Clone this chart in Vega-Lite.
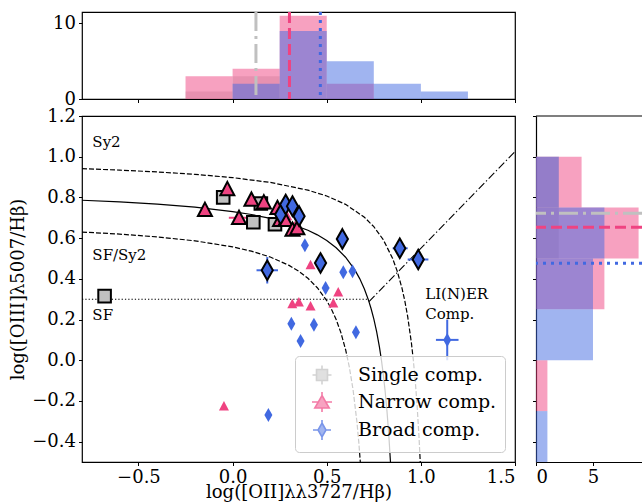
{
  "$schema": "https://vega.github.io/schema/vega-lite/v6.json",
  "padding": {"left": 9, "top": 9, "right": 0, "bottom": 0},
  "autosize": {"type": "pad"},
  "background": "white",
  "config": {
    "font": "DejaVu Serif",
    "view": {"stroke": "#000", "strokeWidth": 1.2},
    "axis": {"grid": false, "domain": false, "domainColor": "#000", "domainWidth": 1.2, "tickColor": "#000", "tickSize": 3.5, "tickWidth": 1, "labelColor": "#000", "labelFont": "DejaVu Serif", "labelFontSize": 18, "titleFont": "DejaVu Serif", "titleFontSize": 18, "titleFontWeight": "normal", "titleColor": "#000", "labelPadding": 3, "titlePadding": 4},
    "legend": {"labelFont": "DejaVu Serif", "labelFontSize": 19, "labelColor": "#000", "labelLimit": 400, "symbolSize": 400, "symbolStrokeWidth": 1.6, "padding": 8, "rowPadding": 0, "labelOffset": 25, "symbolOffset": 8, "fillColor": "rgba(255,255,255,0.8)", "strokeColor": "#cccccc", "cornerRadius": 4, "offset": 10}
  },
  "datasets": {
    "pts": [
      {"comp": "Single comp.", "flag": "hi", "x": -0.68, "y": 0.315},
      {"comp": "Single comp.", "flag": "hi", "x": -0.05, "y": 0.80},
      {"comp": "Single comp.", "flag": "hi", "x": 0.11, "y": 0.678},
      {"comp": "Single comp.", "flag": "hi", "x": 0.15, "y": 0.77},
      {"comp": "Single comp.", "flag": "hi", "x": 0.225, "y": 0.668},
      {"comp": "Narrow comp.", "flag": "lo", "x": -0.046, "y": -0.225},
      {"comp": "Narrow comp.", "flag": "lo", "x": 0.414, "y": 0.469},
      {"comp": "Narrow comp.", "flag": "lo", "x": 0.317, "y": 0.277},
      {"comp": "Narrow comp.", "flag": "lo", "x": 0.352, "y": 0.286},
      {"comp": "Narrow comp.", "flag": "lo", "x": 0.414, "y": 0.267},
      {"comp": "Narrow comp.", "flag": "lo", "x": 0.535, "y": 0.281},
      {"comp": "Narrow comp.", "flag": "lo", "x": 0.561, "y": 0.335},
      {"comp": "Narrow comp.", "flag": "lo", "x": 0.29, "y": 0.71},
      {"comp": "Narrow comp.", "flag": "lo", "x": 0.30, "y": 0.755},
      {"comp": "Narrow comp.", "flag": "lo", "x": 0.33, "y": 0.66},
      {"comp": "Narrow comp.", "flag": "hi", "x": -0.147, "y": 0.74},
      {"comp": "Narrow comp.", "flag": "hi", "x": -0.028, "y": 0.842},
      {"comp": "Narrow comp.", "flag": "hi", "x": 0.034, "y": 0.70},
      {"comp": "Narrow comp.", "flag": "hi", "x": 0.10, "y": 0.79},
      {"comp": "Narrow comp.", "flag": "hi", "x": 0.166, "y": 0.777},
      {"comp": "Narrow comp.", "flag": "hi", "x": 0.238, "y": 0.749},
      {"comp": "Narrow comp.", "flag": "hi", "x": 0.252, "y": 0.69},
      {"comp": "Narrow comp.", "flag": "hi", "x": 0.28, "y": 0.69},
      {"comp": "Narrow comp.", "flag": "hi", "x": 0.318, "y": 0.642},
      {"comp": "Narrow comp.", "flag": "hi", "x": 0.344, "y": 0.65},
      {"comp": "Broad comp.", "flag": "lo", "x": 0.384, "y": 0.565},
      {"comp": "Broad comp.", "flag": "lo", "x": 0.588, "y": 0.432},
      {"comp": "Broad comp.", "flag": "lo", "x": 0.637, "y": 0.437},
      {"comp": "Broad comp.", "flag": "lo", "x": 0.494, "y": 0.355},
      {"comp": "Broad comp.", "flag": "lo", "x": 0.312, "y": 0.179},
      {"comp": "Broad comp.", "flag": "lo", "x": 0.432, "y": 0.174},
      {"comp": "Broad comp.", "flag": "lo", "x": 0.361, "y": 0.095},
      {"comp": "Broad comp.", "flag": "lo", "x": 0.655, "y": 0.138},
      {"comp": "Broad comp.", "flag": "lo", "x": 0.19, "y": -0.269},
      {"comp": "Broad comp.", "flag": "lo", "x": 1.14, "y": 0.10},
      {"comp": "Broad comp.", "flag": "hi", "x": 0.184, "y": 0.442},
      {"comp": "Broad comp.", "flag": "hi", "x": 0.467, "y": 0.478},
      {"comp": "Broad comp.", "flag": "hi", "x": 0.583, "y": 0.596},
      {"comp": "Broad comp.", "flag": "hi", "x": 0.888, "y": 0.55},
      {"comp": "Broad comp.", "flag": "hi", "x": 0.986, "y": 0.495},
      {"comp": "Broad comp.", "flag": "hi", "x": 0.255, "y": 0.716},
      {"comp": "Broad comp.", "flag": "hi", "x": 0.282, "y": 0.765},
      {"comp": "Broad comp.", "flag": "hi", "x": 0.318, "y": 0.757},
      {"comp": "Broad comp.", "flag": "hi", "x": 0.353, "y": 0.708}
    ],
    "errs": [
      {"comp": "Broad comp.", "x": 0.184, "y": 0.442, "xlo": 0.127, "xhi": 0.241, "ylo": 0.377, "yhi": 0.507},
      {"comp": "Broad comp.", "x": 1.14, "y": 0.10, "xlo": 1.08, "xhi": 1.20, "ylo": 0.0, "yhi": 0.20},
      {"comp": "Narrow comp.", "x": 0.034, "y": 0.70, "xlo": -0.02, "xhi": 0.09, "ylo": 0.69, "yhi": 0.71},
      {"comp": "Broad comp.", "x": 0.986, "y": 0.495, "xlo": 0.93, "xhi": 1.04, "ylo": 0.485, "yhi": 0.505},
      {"comp": "Broad comp.", "x": 0.888, "y": 0.55, "xlo": 0.85, "xhi": 0.93, "ylo": 0.545, "yhi": 0.555}
    ],
    "curves": [
      {"c": "div", "x": -0.8, "y": 0.786}, {"c": "div", "x": -0.6, "y": 0.7776}, {"c": "div", "x": -0.4, "y": 0.7667}, {"c": "div", "x": -0.2, "y": 0.7518}, {"c": "div", "x": 0.0, "y": 0.7304}, {"c": "div", "x": 0.1, "y": 0.7159}, {"c": "div", "x": 0.2, "y": 0.6972}, {"c": "div", "x": 0.3, "y": 0.6726}, {"c": "div", "x": 0.4, "y": 0.6385}, {"c": "div", "x": 0.45, "y": 0.616}, {"c": "div", "x": 0.5, "y": 0.5881}, {"c": "div", "x": 0.55, "y": 0.5527}, {"c": "div", "x": 0.6, "y": 0.5062}, {"c": "div", "x": 0.65, "y": 0.4426}, {"c": "div", "x": 0.675, "y": 0.401}, {"c": "div", "x": 0.7, "y": 0.35}, {"c": "div", "x": 0.72, "y": 0.30}, {"c": "div", "x": 0.735, "y": 0.2554}, {"c": "div", "x": 0.75, "y": 0.2029}, {"c": "div", "x": 0.765, "y": 0.1403}, {"c": "div", "x": 0.78, "y": 0.0643}, {"c": "div", "x": 0.79, "y": 0.0038}, {"c": "div", "x": 0.8, "y": -0.0667}, {"c": "div", "x": 0.81, "y": -0.15}, {"c": "div", "x": 0.82, "y": -0.25}, {"c": "div", "x": 0.83, "y": -0.3722}, {"c": "div", "x": 0.8385, "y": -0.4997},
      {"c": "up", "x": -0.8, "y": 0.9412}, {"c": "up", "x": -0.6, "y": 0.9341}, {"c": "up", "x": -0.4, "y": 0.9252}, {"c": "up", "x": -0.2, "y": 0.9134}, {"c": "up", "x": 0.0, "y": 0.8972}, {"c": "up", "x": 0.2, "y": 0.8736}, {"c": "up", "x": 0.4, "y": 0.8358}, {"c": "up", "x": 0.5, "y": 0.807}, {"c": "up", "x": 0.6, "y": 0.766}, {"c": "up", "x": 0.7, "y": 0.7027}, {"c": "up", "x": 0.75, "y": 0.6562}, {"c": "up", "x": 0.8, "y": 0.5926}, {"c": "up", "x": 0.85, "y": 0.5}, {"c": "up", "x": 0.875, "y": 0.4359}, {"c": "up", "x": 0.9, "y": 0.3529}, {"c": "up", "x": 0.915, "y": 0.2903}, {"c": "up", "x": 0.93, "y": 0.2143}, {"c": "up", "x": 0.95, "y": 0.0833}, {"c": "up", "x": 0.96, "y": 0.0}, {"c": "up", "x": 0.97, "y": -0.1}, {"c": "up", "x": 0.98, "y": -0.2222}, {"c": "up", "x": 0.99, "y": -0.375}, {"c": "up", "x": 0.9967, "y": -0.5},
      {"c": "low", "x": -0.8, "y": 0.6299}, {"c": "low", "x": -0.6, "y": 0.6197}, {"c": "low", "x": -0.4, "y": 0.606}, {"c": "low", "x": -0.2, "y": 0.5866}, {"c": "low", "x": 0.0, "y": 0.5571}, {"c": "low", "x": 0.1, "y": 0.5358}, {"c": "low", "x": 0.2, "y": 0.507}, {"c": "low", "x": 0.3, "y": 0.466}, {"c": "low", "x": 0.35, "y": 0.4381}, {"c": "low", "x": 0.4, "y": 0.4027}, {"c": "low", "x": 0.45, "y": 0.3562}, {"c": "low", "x": 0.5, "y": 0.2926}, {"c": "low", "x": 0.525, "y": 0.251}, {"c": "low", "x": 0.55, "y": 0.2}, {"c": "low", "x": 0.575, "y": 0.136}, {"c": "low", "x": 0.6, "y": 0.0529}, {"c": "low", "x": 0.62, "y": -0.0333}, {"c": "low", "x": 0.64, "y": -0.1462}, {"c": "low", "x": 0.66, "y": -0.3}, {"c": "low", "x": 0.67, "y": -0.4}, {"c": "low", "x": 0.6783, "y": -0.5},
      {"c": "sf", "x": -0.8, "y": 0.3}, {"c": "sf", "x": 0.72, "y": 0.3},
      {"c": "liner", "x": 0.7245, "y": 0.288}, {"c": "liner", "x": 1.5, "y": 1.025}
    ],
    "notes": [
      {"x": -0.745, "y": 1.07, "t": "Sy2"},
      {"x": -0.745, "y": 0.519, "t": "SF/Sy2"},
      {"x": -0.745, "y": 0.222, "t": "SF"},
      {"x": 1.023, "y": 0.325, "t": "LI(N)ER"},
      {"x": 1.023, "y": 0.228, "t": "Comp."}
    ],
    "hx": [
      {"comp": "Single comp.", "lo": -0.25, "hi": 0.0, "n": 1},
      {"comp": "Single comp.", "lo": 0.0, "hi": 0.25, "n": 3},
      {"comp": "Narrow comp.", "lo": -0.25, "hi": 0.0, "n": 3},
      {"comp": "Narrow comp.", "lo": 0.0, "hi": 0.25, "n": 4},
      {"comp": "Narrow comp.", "lo": 0.25, "hi": 0.5, "n": 11},
      {"comp": "Narrow comp.", "lo": 0.5, "hi": 0.75, "n": 2},
      {"comp": "Broad comp.", "lo": 0.0, "hi": 0.25, "n": 2},
      {"comp": "Broad comp.", "lo": 0.25, "hi": 0.5, "n": 9},
      {"comp": "Broad comp.", "lo": 0.5, "hi": 0.75, "n": 5},
      {"comp": "Broad comp.", "lo": 0.75, "hi": 1.0, "n": 2},
      {"comp": "Broad comp.", "lo": 1.0, "hi": 1.25, "n": 1}
    ],
    "hy": [
      {"comp": "Single comp.", "lo": 0.75, "hi": 1.0, "n": 2},
      {"comp": "Single comp.", "lo": 0.5, "hi": 0.75, "n": 2},
      {"comp": "Narrow comp.", "lo": 0.75, "hi": 1.0, "n": 4},
      {"comp": "Narrow comp.", "lo": 0.5, "hi": 0.75, "n": 9},
      {"comp": "Narrow comp.", "lo": 0.25, "hi": 0.5, "n": 6},
      {"comp": "Narrow comp.", "lo": -0.25, "hi": 0.0, "n": 1},
      {"comp": "Broad comp.", "lo": 0.75, "hi": 1.0, "n": 2},
      {"comp": "Broad comp.", "lo": 0.5, "hi": 0.75, "n": 6},
      {"comp": "Broad comp.", "lo": 0.25, "hi": 0.5, "n": 5},
      {"comp": "Broad comp.", "lo": 0.0, "hi": 0.25, "n": 5},
      {"comp": "Broad comp.", "lo": -0.5, "hi": -0.25, "n": 1}
    ],
    "medx": [
      {"comp": "Single comp.", "v": 0.124},
      {"comp": "Narrow comp.", "v": 0.302},
      {"comp": "Broad comp.", "v": 0.466}
    ],
    "medy": [
      {"comp": "Single comp.", "v": 0.722},
      {"comp": "Narrow comp.", "v": 0.653},
      {"comp": "Broad comp.", "v": 0.476}
    ]
  },
  "bounds": "flush",
  "spacing": 17,
  "resolve": {
    "scale": {"color": "independent", "fill": "independent", "stroke": "independent", "shape": "independent", "size": "independent", "strokeDash": "independent"},
    "legend": {"color": "independent", "fill": "independent", "stroke": "independent", "shape": "independent", "size": "independent", "strokeDash": "independent"}
  },
  "vconcat": [
    {
      "width": 433,
      "height": 87,
      "layer": [
        {
          "data": {"name": "hx"},
          "mark": {"type": "rect", "opacity": 0.5},
          "encoding": {
            "x": {"field": "lo", "type": "quantitative", "scale": {"domain": [-0.8, 1.5], "nice": false, "zero": false}, "axis": {"values": [-0.5, 0, 0.5, 1, 1.5], "labels": false, "title": null}},
            "x2": {"field": "hi"},
            "y": {"field": "n", "type": "quantitative", "stack": null, "scale": {"domain": [0, 11.5], "nice": false}, "axis": {"values": [0, 10], "format": "d", "title": null}},
            "y2": {"datum": 0},
            "color": {"field": "comp", "type": "nominal", "scale": {"domain": ["Single comp.", "Narrow comp.", "Broad comp."], "range": ["#C0C0C0", "#EF4381", "#4169E1"]}, "legend": null}
          }
        },
        {
          "data": {"name": "medx"},
          "mark": {"type": "rule", "strokeWidth": 3},
          "encoding": {
            "x": {"field": "v", "type": "quantitative"},
            "color": {"field": "comp", "type": "nominal", "legend": null},
            "strokeDash": {"field": "comp", "type": "nominal", "scale": {"domain": ["Single comp.", "Narrow comp.", "Broad comp."], "range": [[19, 5, 3, 5], [11, 5], [3, 5]]}, "legend": null}
          }
        }
      ]
    },
    {
      "bounds": "flush",
      "spacing": 21,
      "resolve": {
        "scale": {"color": "independent", "fill": "independent", "stroke": "independent", "shape": "independent", "size": "independent", "strokeDash": "independent"},
        "legend": {"color": "independent", "fill": "independent", "stroke": "independent", "shape": "independent", "size": "independent", "strokeDash": "independent"}
      },
      "hconcat": [
        {
          "width": 433,
          "height": 346,
          "layer": [
            {
              "data": {"name": "curves"},
              "transform": [{"filter": "datum.c === 'div'"}],
              "mark": {"type": "line", "color": "#000", "strokeWidth": 1.2, "clip": true},
              "encoding": {
                "x": {"field": "x", "type": "quantitative", "scale": {"domain": [-0.8, 1.5], "nice": false, "zero": false}, "axis": {"values": [-0.5, 0, 0.5, 1, 1.5], "format": ".1f", "title": "log([OII]λλ3727/Hβ)", "labelPadding": 3, "titlePadding": -3}},
                "y": {"field": "y", "type": "quantitative", "scale": {"domain": [-0.5, 1.2], "nice": false, "zero": false}, "axis": {"values": [-0.4, -0.2, 0, 0.2, 0.4, 0.6, 0.8, 1.0, 1.2], "format": ".1f", "title": "log([OIII]λ5007/Hβ)"}}
              }
            },
            {
              "data": {"name": "curves"},
              "transform": [{"filter": "datum.c === 'up' || datum.c === 'low'"}],
              "mark": {"type": "line", "color": "#000", "strokeWidth": 1.2, "strokeDash": [5, 2], "clip": true},
              "encoding": {
                "x": {"field": "x", "type": "quantitative"},
                "y": {"field": "y", "type": "quantitative"},
                "detail": {"field": "c", "type": "nominal"}
              }
            },
            {
              "data": {"name": "curves"},
              "transform": [{"filter": "datum.c === 'sf'"}],
              "mark": {"type": "line", "color": "#000", "strokeWidth": 1.1, "strokeDash": [1.3, 2], "clip": true},
              "encoding": {
                "x": {"field": "x", "type": "quantitative"},
                "y": {"field": "y", "type": "quantitative"}
              }
            },
            {
              "data": {"name": "curves"},
              "transform": [{"filter": "datum.c === 'liner'"}],
              "mark": {"type": "line", "color": "#000", "strokeWidth": 1.1, "strokeDash": [8, 2.5, 1.3, 2.5], "clip": true},
              "encoding": {
                "x": {"field": "x", "type": "quantitative"},
                "y": {"field": "y", "type": "quantitative"}
              }
            },
            {
              "data": {"name": "errs"},
              "mark": {"type": "rule", "strokeWidth": 2},
              "encoding": {
                "x": {"field": "xlo", "type": "quantitative"},
                "x2": {"field": "xhi"},
                "y": {"field": "y", "type": "quantitative"},
                "color": {"condition": {"test": "datum.comp === 'Broad comp.'", "value": "#4169E1"}, "value": "#EF4381"}
              }
            },
            {
              "data": {"name": "errs"},
              "mark": {"type": "rule", "strokeWidth": 2},
              "encoding": {
                "y": {"field": "ylo", "type": "quantitative"},
                "y2": {"field": "yhi"},
                "x": {"field": "x", "type": "quantitative"},
                "color": {"condition": {"test": "datum.comp === 'Broad comp.'", "value": "#4169E1"}, "value": "#EF4381"}
              }
            },
            {
              "data": {"name": "pts"},
              "transform": [{"filter": "datum.comp === 'Single comp.'"}],
              "mark": {"type": "point", "filled": true, "fill": "#C0C0C0", "opacity": 1, "strokeWidth": 2, "shape": "M-0.9,-0.9H0.9V0.9H-0.9Z"},
              "encoding": {
                "x": {"field": "x", "type": "quantitative"},
                "y": {"field": "y", "type": "quantitative"},
                "size": {"field": "flag", "type": "nominal", "scale": {"domain": ["hi", "lo"], "range": [196, 100]}, "legend": null},
                "stroke": {"condition": {"test": "datum.flag === 'hi'", "value": "#000000"}, "value": "transparent"}
              }
            },
            {
              "data": {"name": "pts"},
              "transform": [{"filter": "datum.comp === 'Narrow comp.'"}],
              "mark": {"type": "point", "filled": true, "fill": "#EF4381", "opacity": 1, "strokeWidth": 2, "shape": "M0,-1L1,0.9L-1,0.9Z"},
              "encoding": {
                "x": {"field": "x", "type": "quantitative"},
                "y": {"field": "y", "type": "quantitative"},
                "size": {"field": "flag", "type": "nominal", "legend": null},
                "stroke": {"condition": {"test": "datum.flag === 'hi'", "value": "#000000"}, "value": "transparent"}
              }
            },
            {
              "data": {"name": "pts"},
              "transform": [{"filter": "datum.comp === 'Broad comp.'"}],
              "mark": {"type": "point", "filled": true, "fill": "#4169E1", "opacity": 1, "strokeWidth": 2, "shape": "M0,-1.4L0.8,0L0,1.4L-0.8,0Z"},
              "encoding": {
                "x": {"field": "x", "type": "quantitative"},
                "y": {"field": "y", "type": "quantitative"},
                "size": {"field": "flag", "type": "nominal", "legend": null},
                "stroke": {"condition": {"test": "datum.flag === 'hi'", "value": "#000000"}, "value": "transparent"}
              }
            },
            {
              "data": {"name": "notes"},
              "mark": {"type": "text", "align": "left", "baseline": "middle", "fontSize": 15, "font": "DejaVu Serif", "color": "#000"},
              "encoding": {
                "x": {"field": "x", "type": "quantitative"},
                "y": {"field": "y", "type": "quantitative"},
                "text": {"field": "t", "type": "nominal"}
              }
            },
            {
              "data": {"name": "pts"},
              "mark": {"type": "point", "filled": true, "size": 0},
              "encoding": {
                "x": {"field": "x", "type": "quantitative"},
                "y": {"field": "y", "type": "quantitative"},
                "shape": {"field": "comp", "type": "nominal", "scale": {"domain": ["Single comp.", "Narrow comp.", "Broad comp."], "range": ["M-0.55,-0.55H0.55V0.55H-0.55ZM-0.95,0H-0.55M0.55,0H0.95M0,-0.95V-0.55M0,0.55V0.95", "M0,-0.65L0.72,0.6H-0.72ZM-1,0H-0.4M0.4,0H1M0,-1V-0.65M0,0.6V1", "M0,-0.7L0.4,0L0,0.7L-0.4,0ZM-0.9,0H-0.4M0.4,0H0.9M0,-1V-0.7M0,0.7V1"]}, "legend": {"title": null, "orient": "bottom-right", "symbolSize": 400}},
                "fill": {"field": "comp", "type": "nominal", "scale": {"domain": ["Single comp.", "Narrow comp.", "Broad comp."], "range": ["#C0C0C0", "#EF4381", "#4169E1"]}, "legend": {"title": null, "orient": "bottom-right", "symbolSize": 400}},
                "stroke": {"field": "comp", "type": "nominal", "scale": {"domain": ["Single comp.", "Narrow comp.", "Broad comp."], "range": ["#C0C0C0", "#EF4381", "#4169E1"]}, "legend": {"title": null, "orient": "bottom-right", "symbolSize": 400}}
              }
            }
          ]
        },
        {
          "width": 106,
          "height": 346,
          "view": {"stroke": "transparent"},
          "layer": [
            {
              "data": {"name": "hy"},
              "mark": {"type": "rect", "opacity": 0.5},
              "encoding": {
                "y": {"field": "lo", "type": "quantitative", "scale": {"domain": [-0.5, 1.2], "nice": false, "zero": false}, "axis": {"values": [-0.4, -0.2, 0, 0.2, 0.4, 0.6, 0.8, 1.0, 1.2], "labels": false, "domain": true, "title": null}},
                "y2": {"field": "hi"},
                "x": {"field": "n", "type": "quantitative", "stack": null, "scale": {"domain": [0, 9.3], "nice": false}, "axis": {"values": [0, 5], "format": "d", "domain": true, "title": null}},
                "x2": {"datum": 0},
                "color": {"field": "comp", "type": "nominal", "scale": {"domain": ["Single comp.", "Narrow comp.", "Broad comp."], "range": ["#C0C0C0", "#EF4381", "#4169E1"]}, "legend": null}
              }
            },
            {
              "data": {"name": "medy"},
              "mark": {"type": "rule", "strokeWidth": 3},
              "encoding": {
                "y": {"field": "v", "type": "quantitative"},
                "color": {"field": "comp", "type": "nominal", "legend": null},
                "strokeDash": {"field": "comp", "type": "nominal", "scale": {"domain": ["Single comp.", "Narrow comp.", "Broad comp."], "range": [[19, 5, 3, 5], [11, 5], [3, 5]]}, "legend": null}
              }
            },
            {
              "data": {"values": [{"v": 1.2}]},
              "mark": {"type": "rule", "color": "#000", "strokeWidth": 1.2},
              "encoding": {
                "y": {"field": "v", "type": "quantitative"}
              }
            }
          ]
        }
      ]
    }
  ]
}
